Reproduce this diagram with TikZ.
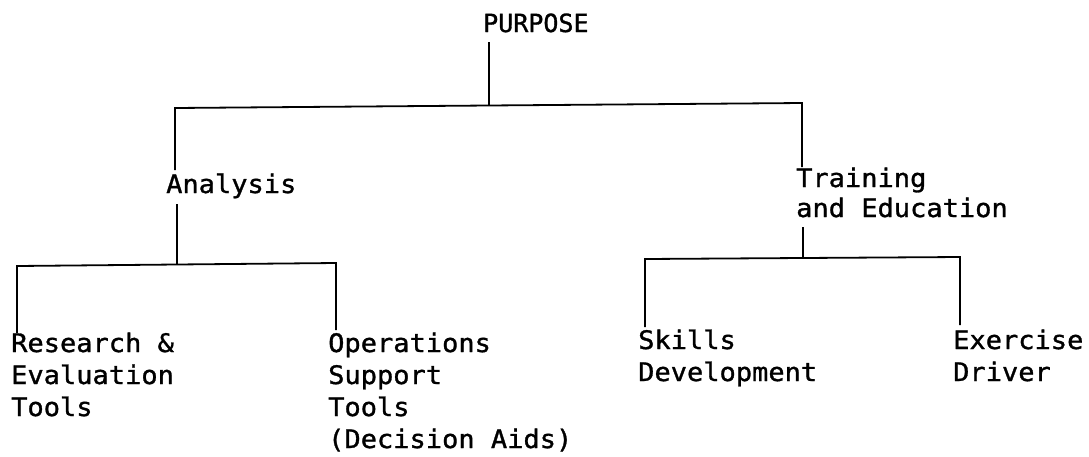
\documentclass[tikz,border=0pt]{standalone}
\usepackage{fontspec}
\newfontfamily\tw[FakeStretch=1.06,FakeBold=1.2]{DejaVu Sans Mono}
\newfontfamily\twp[FakeStretch=1.0,FakeBold=1.2]{DejaVu Sans Mono}
\begin{document}
\begin{tikzpicture}[x=1pt,y=1pt,
  lbl/.style={anchor=base west,inner sep=0pt,align=left,font=\tw\fontsize{25.5}{32}\selectfont},
  tight/.style={font=\tw\fontsize{25.5}{30}\selectfont},
  ln/.style={line width=1.8pt}]
\useasboundingbox (0,0) rectangle (1089,-456);
% text nodes (base = baseline of the last line)
\node[lbl,font=\twp\fontsize{25}{30}\selectfont] (purpose) at (483,-32) {PURPOSE};
\node[lbl] (analysis) at (166,-193) {Analysis};
\node[lbl,tight] (training) at (796,-217) {Training\\and Education};
\node[lbl] (research) at (11,-416) {Research \&\\Evaluation\\Tools};
\node[lbl] (operations) at (328,-448) {Operations\\Support\\Tools\\(Decision Aids)};
\node[lbl] (skills) at (638,-381) {Skills\\Development};
\node[lbl] (exercise) at (953,-381) {Exercise\\Driver};
% junction coordinates
\coordinate (p0) at (489,-42);
\coordinate (p1) at (489,-105);
\coordinate (hl) at (175,-108);
\coordinate (hr) at (802,-103);
\coordinate (a0) at (175,-170);
\coordinate (a1) at (177,-204);
\coordinate (a2) at (177,-265);
\coordinate (l1) at (17,-266);
\coordinate (l2) at (336,-263);
\coordinate (l1e) at (17,-333);
\coordinate (l2e) at (336,-330);
\coordinate (t0) at (802,-167);
\coordinate (t1) at (803,-227);
\coordinate (t2) at (803,-258);
\coordinate (r1) at (645,-259);
\coordinate (r2) at (960,-257);
\coordinate (r1e) at (645,-327);
\coordinate (r2e) at (960,-325);
% connectors
\draw[ln] (p0) -- (p1);
\draw[ln] (a0) -- (hl) -- (hr) -- (t0);
\draw[ln] (a1) -- (a2);
\draw[ln] (l1e) -- (l1) -- (l2) -- (l2e);
\draw[ln] (t1) -- (t2);
\draw[ln] (r1e) -- (r1) -- (r2) -- (r2e);
\end{tikzpicture}
\end{document}
